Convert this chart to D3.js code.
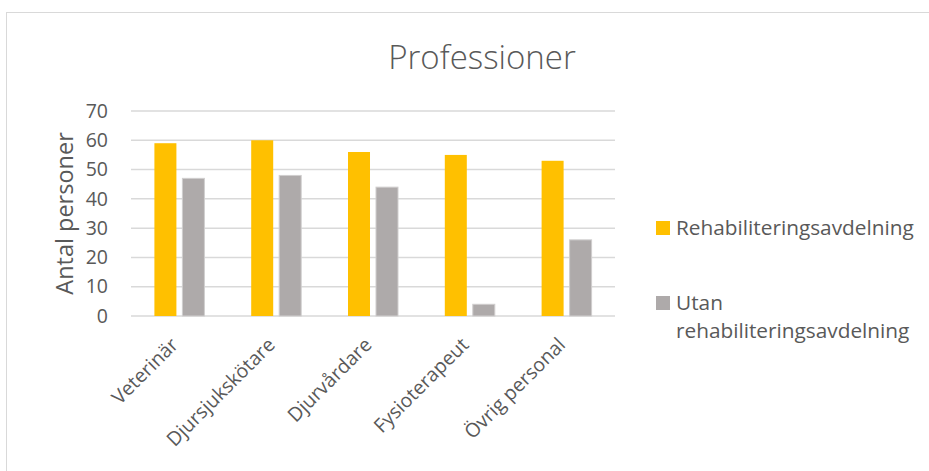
<!DOCTYPE html>
<html>
<head>
<meta charset="utf-8">
<script src="https://cdn.jsdelivr.net/npm/d3@7"></script>
<style>
  body { margin: 0; background: #fff; }
  svg { display: block; font-family: 'Open Sans', sans-serif; }
  .grid line { stroke: #d9d9d9; stroke-width: 1.5; }
  .tick text, .lbl { fill: #595959; }
</style>
</head>
<body>
<svg width="929" height="471"></svg>
<script>
var categories = ['Veterinär', 'Djursjukskötare', 'Djurvårdare', 'Fysioterapeut', 'Övrig personal'];
var seriesNames = ['Rehabiliteringsavdelning', 'Utan rehabiliteringsavdelning'];
var rehabValues = [59, 60, 56, 55, 53];
var utanValues = [47, 48, 44, 4, 26];
var yTicks = [0, 10, 20, 30, 40, 50, 60, 70];
var colors = ['#ffc000', '#aeaaaa'];

var svg = d3.select('svg');

var plot = { left: 131, right: 615, top: 111, bottom: 316 };

// chart frame
svg.append('rect')
  .attr('x', 6.5).attr('y', 12.5)
  .attr('width', 940).attr('height', 470)
  .attr('fill', 'none').attr('stroke', '#d9d9d9');

var x0 = d3.scaleBand().domain(categories).range([plot.left, plot.right]);
var x1 = d3.scaleBand().domain(seriesNames).range([0, x0.step()])
  .paddingInner(0.214).paddingOuter(0.836);
var y = d3.scaleLinear().domain([0, 70]).range([plot.bottom, plot.top]);

// gridlines
svg.append('g').attr('class', 'grid')
  .selectAll('line').data(yTicks).enter()
  .append('line')
  .attr('x1', plot.left).attr('x2', plot.right)
  .attr('y1', function(d) { return y(d); })
  .attr('y2', function(d) { return y(d); });

// y axis labels
var yAxis = svg.append('g')
  .attr('transform', 'translate(' + plot.left + ',0)')
  .call(d3.axisLeft(y).tickValues(yTicks).tickSize(0).tickPadding(23));
yAxis.select('.domain').remove();
yAxis.selectAll('text').attr('font-size', 19.5).attr('font-family', 'Open Sans');

// bars
var rows = categories.map(function(c, i) {
  return { cat: c, values: [rehabValues[i], utanValues[i]] };
});

var groups = svg.append('g').selectAll('g').data(rows).enter()
  .append('g')
  .attr('transform', function(d) { return 'translate(' + x0(d.cat) + ',0)'; });

groups.selectAll('rect')
  .data(function(d) {
    return d.values.map(function(v, i) { return { s: seriesNames[i], v: v, i: i }; });
  })
  .enter().append('rect')
  .attr('x', function(d) { return x1(d.s); })
  .attr('width', x1.bandwidth())
  .attr('y', function(d) { return y(d.v); })
  .attr('height', function(d) { return y(0) - y(d.v); })
  .attr('fill', function(d) { return colors[d.i]; })
  .attr('stroke', function(d) { return d.i === 1 ? '#d0cece' : 'none'; })
  .attr('stroke-width', 1);

// x axis labels (rotated)
var xAxis = svg.append('g')
  .attr('transform', 'translate(0,' + plot.bottom + ')')
  .call(d3.axisBottom(x0).tickSize(0).tickPadding(0));
xAxis.select('.domain').remove();
xAxis.selectAll('text')
  .attr('font-size', 19.5)
  .attr('font-family', 'Open Sans')
  .attr('text-anchor', 'end')
  .attr('dy', 0)
  .attr('transform', 'translate(0,30) rotate(-45)');

// title
svg.append('text').attr('class', 'lbl')
  .attr('x', 482).attr('y', 69)
  .attr('text-anchor', 'middle')
  .attr('font-size', 33)
  .attr('font-weight', 300)
  .text('Professioner');

// y axis title
svg.append('text').attr('class', 'lbl')
  .attr('transform', 'translate(73,' + ((plot.top + plot.bottom) / 2) + ') rotate(-90)')
  .attr('text-anchor', 'middle')
  .attr('font-size', 23.5)
  .text('Antal personer');

// legend
var legend = svg.append('g');
legend.append('rect').attr('x', 656).attr('y', 221).attr('width', 14).attr('height', 14).attr('fill', colors[0]);
legend.append('text').attr('class', 'lbl')
  .attr('x', 676).attr('y', 235).attr('font-size', 20.8)
  .text(seriesNames[0]);
legend.append('rect').attr('x', 656).attr('y', 296).attr('width', 14).attr('height', 14).attr('fill', colors[1]);
legend.append('text').attr('class', 'lbl')
  .attr('x', 676).attr('y', 310).attr('font-size', 20.8)
  .text('Utan');
legend.append('text').attr('class', 'lbl')
  .attr('x', 676).attr('y', 338).attr('font-size', 20.8)
  .text('rehabiliteringsavdelning');
</script>
</body>
</html>
